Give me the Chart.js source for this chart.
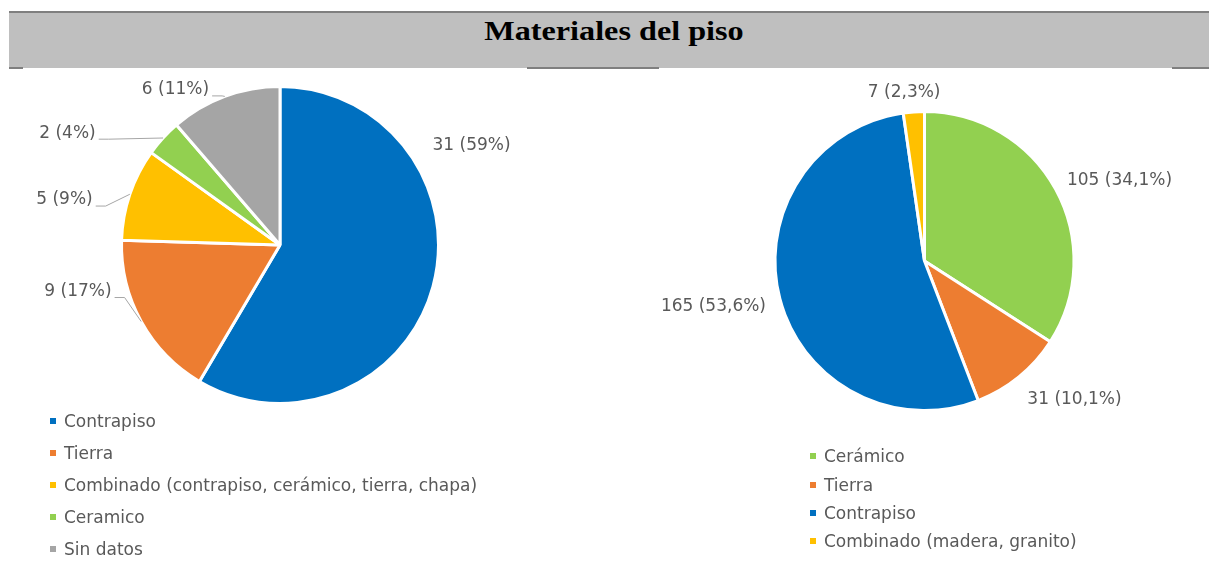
<!DOCTYPE html>
<html>
<head>
<meta charset="utf-8">
<script src="https://cdn.jsdelivr.net/npm/chart.js@4.4.1/dist/chart.umd.min.js"></script>
<style>
  html, body { margin: 0; padding: 0; background: #fff; width: 1209px; height: 570px; overflow: hidden; }
  #band { position: absolute; left: 9px; top: 11px; width: 1200px; height: 57px; background: #bfbfbf;
          border-top: 2px solid #7f7f7f; box-sizing: border-box; }
  .rule { position: absolute; top: 67px; height: 2px; background: #7f7f7f; }
  #title { position: absolute; left: 14px; top: 17px; width: 1200px; text-align: center;
           font: bold 28px/28px "Liberation Serif", "Times New Roman", serif; color: #000;
           transform: scaleX(1.15); transform-origin: 50% 50%; }
  canvas { position: absolute; }
  .legend { position: absolute; font: 17px "DejaVu Sans", sans-serif; color: #595959; }
  .legend .row { display: flex; align-items: center; white-space: nowrap; }
  .legend .sw { width: 6px; height: 6px; flex: none; }
</style>
</head>
<body>
<div id="band"></div>
<div class="rule" style="left:9px;width:14px"></div>
<div class="rule" style="left:527px;width:132px"></div>
<div class="rule" style="left:1172px;width:37px"></div>
<div id="title">Materiales del piso</div>

<canvas id="pieA" width="604" height="500" style="left:0;top:70px"></canvas>
<canvas id="pieB" width="605" height="500" style="left:604px;top:70px"></canvas>
<div id="legA" class="legend" style="left:50px;top:405px"></div>
<div id="legB" class="legend" style="left:810px;top:442px"></div>

<script>
// ---- first pie: floor materials (left) ----
const catsA   = ['Contrapiso', 'Tierra', 'Combinado (contrapiso, cerámico, tierra, chapa)', 'Ceramico', 'Sin datos'];
const valsA   = [31, 9, 5, 2, 6];
const pctsA   = ['59%', '17%', '9%', '4%', '11%'];
const colorsA = ['#0070c0', '#ed7d31', '#ffc000', '#92d050', '#a5a5a5'];

// ---- second pie: floor materials (right) ----
const catsB   = ['Cerámico', 'Tierra', 'Contrapiso', 'Combinado (madera, granito)'];
const valsB   = [105, 31, 165, 7];
const pctsB   = ['34,1%', '10,1%', '53,6%', '2,3%'];
const colorsB = ['#92d050', '#ed7d31', '#0070c0', '#ffc000'];

// label placement: angular shift from slice middle (deg), distance as multiple of radius
const placeA = [
  { shift: -42.6, dist: 1.36,  leader: false },
  { shift:  15.9, dist: 1.308, leader: true },
  { shift:  -6.9, dist: 1.389, leader: true },
  { shift: -14.7, dist: 1.515, leader: true },
  { shift: -13.6, dist: 1.18,  leader: true }
];
const placeB = [
  { shift:  6.3, dist: 1.41,  leader: false },
  { shift: -8.2, dist: 1.364, leader: false },
  { shift:  2.3, dist: 1.445, leader: false },
  { shift: -2.8, dist: 1.135, leader: false }
];

const BORDER = 3;

// draws "value (percent)" next to each slice, with an optional leader line
const sliceLabels = {
  id: 'sliceLabels',
  afterDatasetsDraw(chart, args, opts) {
    const ctx = chart.ctx;
    const meta = chart.getDatasetMeta(0);
    const values = chart.data.datasets[0].data;
    meta.data.forEach((arc, i) => {
      const p = arc.getProps(['x', 'y', 'startAngle', 'endAngle', 'outerRadius'], true);
      const mid = (p.startAngle + p.endAngle) / 2;
      const pl = opts.place[i];
      const a = mid + pl.shift * Math.PI / 180;
      const lx = p.x + Math.cos(a) * p.outerRadius * pl.dist;
      const ly = p.y + Math.sin(a) * p.outerRadius * pl.dist;
      const text = values[i] + ' (' + opts.pcts[i] + ')';
      ctx.save();
      ctx.font = '17px "DejaVu Sans", sans-serif';
      ctx.fillStyle = '#595959';
      ctx.textAlign = 'center';
      ctx.textBaseline = 'middle';
      ctx.fillText(text, lx, ly);
      if (pl.leader) {
        const w = ctx.measureText(text).width;
        const ex = p.x + Math.cos(mid) * p.outerRadius;
        const ey = p.y + Math.sin(mid) * p.outerRadius;
        const side = ex > lx ? 1 : -1;
        const sx = lx + side * (w / 2 + 3);
        const sy = ly + 6;
        ctx.strokeStyle = '#a6a6a6';
        ctx.lineWidth = 1;
        ctx.beginPath();
        ctx.moveTo(sx, sy);
        ctx.lineTo(sx + side * 10, sy);
        ctx.lineTo(ex, ey);
        ctx.stroke();
      }
      ctx.restore();
    });
  }
};

// padding that puts a pie of visible radius r at (cx, cy) inside a canvas of w x h
function padFor(w, h, cx, cy, r) {
  const half = r + BORDER;
  return { left: cx - half, top: cy - half, right: w - (cx + half), bottom: h - (cy + half) };
}

function makePie(id, cats, vals, colors, pcts, place, pad) {
  return new Chart(document.getElementById(id), {
    type: 'pie',
    data: {
      labels: cats,
      datasets: [{
        data: vals,
        backgroundColor: colors,
        borderColor: '#ffffff',
        borderWidth: BORDER,
        hoverBorderWidth: BORDER,
        hoverOffset: 0
      }]
    },
    options: {
      responsive: false,
      animation: false,
      devicePixelRatio: 1,
      events: [],
      layout: { padding: pad },
      plugins: {
        legend: { display: false },
        tooltip: { enabled: false },
        sliceLabels: { place: place, pcts: pcts }
      }
    },
    plugins: [sliceLabels]
  });
}

function buildLegend(elId, chart, rowH) {
  const el = document.getElementById(elId);
  const ds = chart.data.datasets[0];
  chart.data.labels.forEach((lab, i) => {
    const row = document.createElement('div');
    row.className = 'row';
    row.style.height = rowH + 'px';
    const sw = document.createElement('span');
    sw.className = 'sw';
    sw.style.background = ds.backgroundColor[i];
    sw.style.marginRight = '8px';
    const tx = document.createElement('span');
    tx.textContent = lab;
    row.appendChild(sw);
    row.appendChild(tx);
    el.appendChild(row);
  });
}

const chartA = makePie('pieA', catsA, valsA, colorsA, pctsA, placeA, padFor(604, 500, 280, 175, 157));
const chartB = makePie('pieB', catsB, valsB, colorsB, pctsB, placeB, padFor(605, 500, 320.5, 191, 148));
buildLegend('legA', chartA, 32.1);
buildLegend('legB', chartB, 28.4);
</script>
</body>
</html>
